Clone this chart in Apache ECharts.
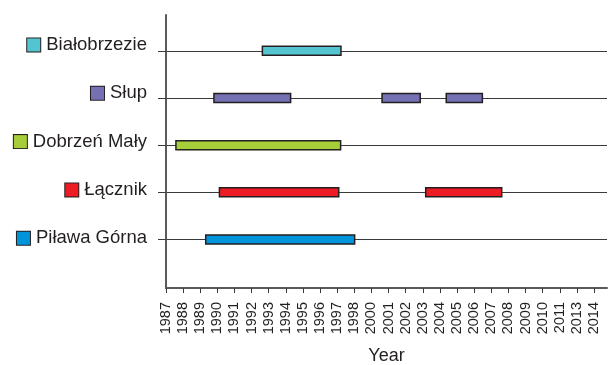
<!DOCTYPE html>
<html><head><meta charset="utf-8">
<script src="https://cdn.jsdelivr.net/npm/echarts@6/dist/echarts.min.js"></script>
<style>html,body{margin:0;padding:0;background:#fff}#c{width:609px;height:365px}</style>
</head><body><div id="c"></div>
<script>
// Tick labels along the bottom axis (evenly spaced ticks, as in the original)
const tickLabels = ['1987','1988','1989','1990','1991','1992','1993','1994','1995','1996','1997','1998',
  '2000','2001','2002','2003','2004','2005','2006','2007','2008','2009','2010','2011','2013','2014'];
// Categories bottom to top
const categories = ['Piława Górna','Łącznik','Dobrzeń Mały','Słup','Białobrzezie'];
const categoryColors = ['#0095da','#ed1c24','#a6ce39','#7570b3','#54c5d0'];
// Spans, in axis tick units from the first tick (1987)
const pilawaGornaSpans = [[2.32, 11.02]];
const lacznikSpans = [[3.12, 10.09], [15.17, 19.61]];
const dobrzenMalySpans = [[0.58, 10.20]];
const slupSpans = [[2.80, 7.28], [12.62, 14.85], [16.37, 18.48]];
const bialobrzezieSpans = [[5.63, 10.22]];

const allSpans = [pilawaGornaSpans, lacznikSpans, dobrzenMalySpans, slupSpans, bialobrzezieSpans];
const data = [];
allSpans.forEach((spans, k) => spans.forEach(s => data.push([k + 1, s[0], s[1], k])));
const tickIdx = tickLabels.map((_, i) => i);
const catIdx = categories.map((_, i) => i + 1);
const FONT = 'Liberation Sans, Arial, sans-serif';
const TXT = '#231f20';

const rich = { gap: { width: 6, height: 14 }, t: { fontSize: 18.5, color: TXT, fontFamily: FONT } };
categoryColors.forEach((c, i) => {
  rich['sq' + i] = { width: 13, height: 13, backgroundColor: c, borderColor: TXT, borderWidth: 1 };
});

const chart = echarts.init(document.getElementById('c'), null, { renderer: 'canvas' });
chart.setOption({
  animation: false,
  backgroundColor: '#fff',
  grid: { left: 166, right: 2, top: 15, bottom: 77, containLabel: false, outerBoundsMode: 'none' },
  xAxis: {
    type: 'value', min: 0, max: 25.76,
    axisLine: { show: true, onZero: false, lineStyle: { color: '#5b5b5b', width: 2 } },
    axisTick: { show: true, customValues: tickIdx, length: 5, lineStyle: { color: '#3a3a3a', width: 1 } },
    axisLabel: { customValues: tickIdx, rotate: 90, formatter: v => tickLabels[v], fontSize: 14.5,
      color: TXT, margin: 14, fontFamily: FONT },
    splitLine: { show: false },
    name: 'Year', nameLocation: 'middle', nameGap: 59,
    nameTextStyle: { fontSize: 18, color: TXT, fontFamily: FONT }
  },
  yAxis: [{
    type: 'value', min: -0.03, max: 5.76,
    axisLine: { show: true, onZero: false, lineStyle: { color: '#5b5b5b', width: 2 } },
    axisTick: { show: true, customValues: catIdx, length: 8, lineStyle: { color: '#3a3a3a', width: 1 } },
    axisLabel: { show: false },
    splitLine: { show: true, lineStyle: { color: '#3a3a3a', width: 1 } }
  }, {
    type: 'value', position: 'left', offset: 0, min: -0.029, max: 5.62,
    axisLine: { show: false }, axisTick: { show: false }, splitLine: { show: false },
    axisLabel: { customValues: catIdx, margin: 19, formatter: v => `{sq${v - 1}|}{gap|}{t|${categories[v - 1]}}`, rich: rich }
  }],
  series: [{
    type: 'custom', yAxisIndex: 0,
    encode: { x: [1, 2], y: 0 },
    data: data,
    renderItem: (params, api) => {
      const y = api.value(0);
      const p0 = api.coord([api.value(1), y]);
      const p1 = api.coord([api.value(2), y]);
      const h = 9;
      return { type: 'rect', shape: { x: p0[0], y: p0[1] - h / 2, width: p1[0] - p0[0], height: h },
        style: { fill: categoryColors[api.value(3)], stroke: TXT, lineWidth: 1.5 } };
    }
  }]
});
</script></body></html>
